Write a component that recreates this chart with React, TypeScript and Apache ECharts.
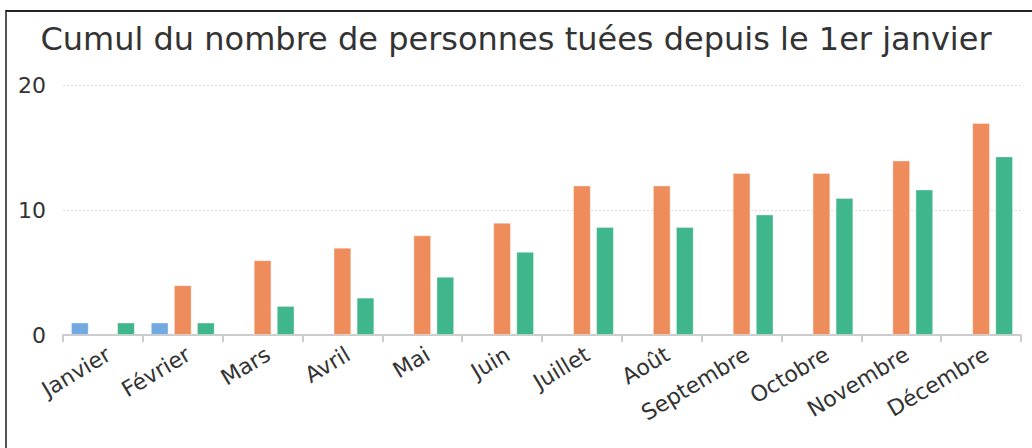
import React, { useEffect, useRef } from "react";
import * as echarts from "echarts";

const titleText = "Cumul du nombre de personnes tuées depuis le 1er janvier";
const months = [
  "Janvier", "Février", "Mars", "Avril", "Mai", "Juin",
  "Juillet", "Août", "Septembre", "Octobre", "Novembre", "Décembre",
];
const seriesBlue: (number | null)[] = [1, 1, null, null, null, null, null, null, null, null, null, null];
const seriesOrange: (number | null)[] = [null, 4, 6, 7, 8, 9, 12, 12, 13, 13, 14, 17];
const seriesGreen: number[] = [1, 1, 2.33, 3, 4.67, 6.67, 8.67, 8.67, 9.67, 11, 11.67, 14.33];
const yMin = 0;
const yMax = 20;
const yInterval = 10;

const FONT = "'DejaVu Sans', sans-serif";

export default function App() {
  const ref = useRef<HTMLDivElement>(null);
  useEffect(() => {
    if (!ref.current) return;
    const chart = echarts.init(ref.current, null, { renderer: "svg" });
    const barStyle = (color: string) => ({
      color,
      borderColor: "rgba(255,255,255,0.35)",
      borderWidth: 1,
    });
    chart.setOption({
      animation: false,
      backgroundColor: "#ffffff",
      textStyle: { fontFamily: FONT },
      title: {
        text: titleText,
        left: "center",
        top: 18,
        textStyle: { fontFamily: FONT, fontSize: 32, fontWeight: "normal", color: "#333333" },
      },
      grid: { left: 63, right: 11, top: 85.7, bottom: 113, containLabel: false },
      xAxis: {
        type: "category",
        data: months,
        axisLine: { lineStyle: { color: "#cccccc", width: 2 } },
        axisTick: { show: true, length: 7, lineStyle: { color: "#cccccc", width: 2 } },
        axisLabel: {
          rotate: 31,
          fontSize: 22,
          color: "#333333",
          fontFamily: FONT,
          margin: 8,
          interval: 0,
          align: "right",
          verticalAlign: "top",
        },
      },
      yAxis: {
        type: "value",
        min: yMin,
        max: yMax,
        interval: yInterval,
        axisLine: { show: false },
        axisTick: { show: false },
        axisLabel: { fontSize: 22, color: "#333333", fontFamily: FONT, margin: 17 },
        splitLine: { lineStyle: { color: "#dddddd", type: [2, 2], width: 1 } },
      },
      series: [
        { name: "Série 1", type: "bar", data: seriesBlue, itemStyle: barStyle("#73a9e1"), barGap: "30%", barCategoryGap: "20%" },
        { name: "Série 2", type: "bar", data: seriesOrange, itemStyle: barStyle("#ef8c5c") },
        { name: "Série 3", type: "bar", data: seriesGreen, itemStyle: barStyle("#40b68c") },
      ],
    });
    return () => chart.dispose();
  }, []);

  return (
    <div style={{ position: "fixed", left: 0, top: 0, width: 1032, height: 448, overflow: "hidden", background: "#fff" }}>
      <div ref={ref} style={{ position: "absolute", left: 0, top: 0, width: 1032, height: 448 }} />
      <div
        style={{
          position: "absolute",
          left: 5,
          top: 10,
          width: 1100,
          height: 500,
          borderTop: "2px solid #222222",
          borderLeft: "2px solid #555555",
          pointerEvents: "none",
        }}
      />
    </div>
  );
}
